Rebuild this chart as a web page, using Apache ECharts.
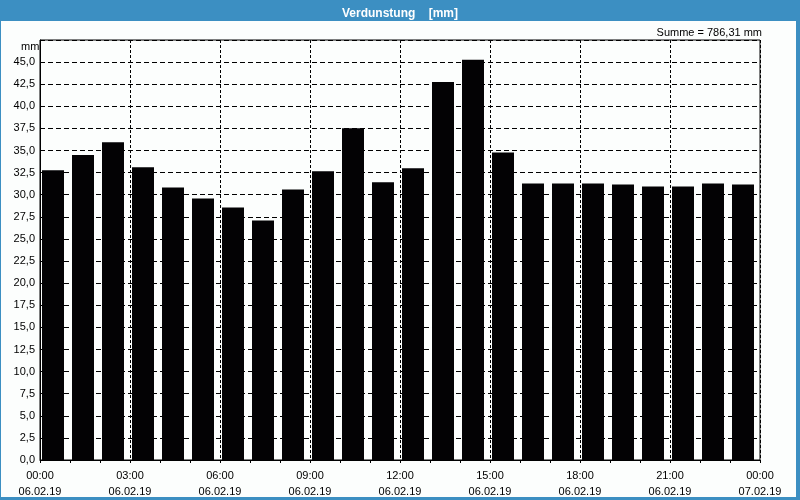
<!DOCTYPE html>
<html>
<head>
<meta charset="utf-8">
<script src="https://cdn.jsdelivr.net/npm/echarts@6/dist/echarts.min.js"></script>
<style>
html, body { margin: 0; padding: 0; }
#wrap { position: relative; width: 800px; height: 500px; background: #3c8fc2; overflow: hidden; }
#paper { position: absolute; left: 1px; top: 21px; width: 795px; height: 476px; background: #fcfefd; }
#chart { position: absolute; left: 0; top: 0; width: 800px; height: 500px; }
</style>
</head>
<body>
<div id="wrap"><div id="paper"></div><div id="chart"></div></div>
<script>
const hours = ['00:00','01:00','02:00','03:00','04:00','05:00','06:00','07:00','08:00','09:00','10:00','11:00',
               '12:00','13:00','14:00','15:00','16:00','17:00','18:00','19:00','20:00','21:00','22:00','23:00'];
const values = [32.76, 34.5, 35.94, 33.1, 30.83, 29.58, 28.56, 27.08, 30.6, 32.65, 37.53, 31.4,
                32.99, 42.76, 45.26, 34.77, 31.28, 31.28, 31.28, 31.17, 30.94, 30.94, 31.28, 31.17];
const tickTimes = ['00:00','03:00','06:00','09:00','12:00','15:00','18:00','21:00','00:00'];
const tickDates = ['06.02.19','06.02.19','06.02.19','06.02.19','06.02.19','06.02.19','06.02.19','06.02.19','07.02.19'];
const titleText = 'Verdunstung    [mm]';
const sumText = 'Summe = 786,31 mm';
const unitText = 'mm';

const FONT = 'Liberation Sans, Arial, sans-serif';
const chart = echarts.init(document.getElementById('chart'), null, { renderer: 'canvas' });
chart.setOption({
  animation: false,
  title: {
    text: titleText, left: 'center', top: 3,
    textStyle: { color: '#ffffff', fontSize: 12, fontWeight: 'bold', fontFamily: FONT }
  },
  graphic: [
    { type: 'text', right: 38, top: 27, style: { text: sumText, fill: '#000', font: '11px ' + FONT } },
    { type: 'text', left: 21, top: 41, style: { text: unitText, fill: '#000', font: '11px ' + FONT } }
  ],
  grid: [
    { left: 40, right: 40, top: 40, bottom: 40, show: true, borderColor: '#000', borderWidth: 1, backgroundColor: 'transparent' },
    { left: 38, right: 42, top: 40, bottom: 40 }
  ],
  xAxis: [
    {
      type: 'value', gridIndex: 0, min: 0, max: 24, interval: 3,
      axisLine: { show: true, lineStyle: { color: '#000', width: 1 } },
      axisTick: { show: true, length: 3, lineStyle: { color: '#000' } },
      minorTick: { show: true, splitNumber: 3, length: 3, lineStyle: { color: '#000' } },
      splitLine: { show: true, lineStyle: { color: '#000', width: 1, type: [3, 2] } },
      axisLabel: {
        color: '#000', fontSize: 11, fontFamily: FONT, margin: 8, lineHeight: 16,
        formatter: function (v) { const i = Math.round(v / 3); return tickTimes[i] + '\n' + tickDates[i]; }
      }
    },
    { type: 'category', gridIndex: 1, data: hours, show: false, boundaryGap: true }
  ],
  yAxis: [
    {
      type: 'value', gridIndex: 0, min: 0, max: 47.5, interval: 2.5,
      axisLine: { show: true, lineStyle: { color: '#000', width: 1 } },
      axisTick: { show: false },
      splitLine: { show: true, lineStyle: { color: '#000', width: 1, type: [5, 3] } },
      axisLabel: {
        color: '#000', fontSize: 11, fontFamily: FONT, margin: 5,
        formatter: function (v) { return v >= 47.5 ? '' : v.toFixed(1).replace('.', ','); }
      }
    },
    { type: 'value', gridIndex: 1, min: 0, max: 47.5, show: false, splitLine: { show: false } }
  ],
  series: [{
    type: 'bar', xAxisIndex: 1, yAxisIndex: 1, data: values, barWidth: 22,
    itemStyle: { color: '#030204' }, z: 3
  }]
});
</script>
</body>
</html>
